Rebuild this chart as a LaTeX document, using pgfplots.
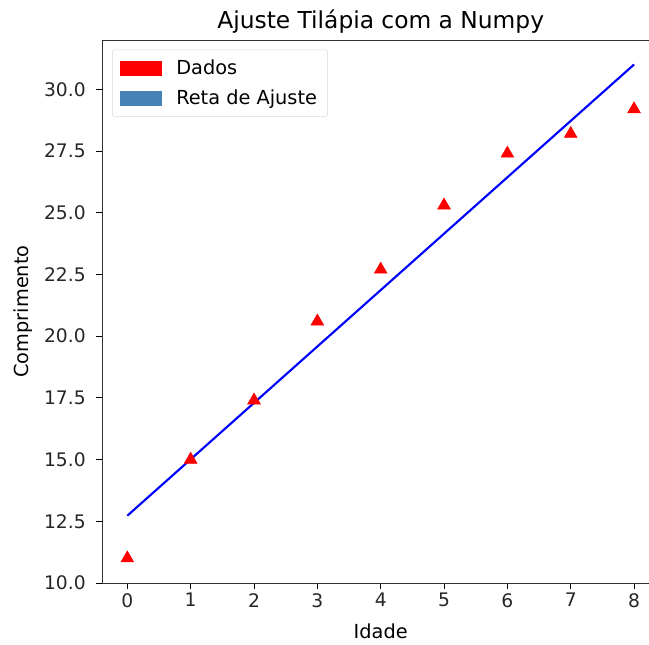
\documentclass[border=0pt]{standalone}
\usepackage{pgfplots}
\pgfplotsset{compat=1.18}
\usepackage{fontspec}
\setmainfont{DejaVu Sans}
\definecolor{steelblue}{HTML}{4682B4}
\begin{document}
\begin{tikzpicture}
\path[use as bounding box, clip] (-76.5pt,-46.5pt) rectangle (410.25pt,437.25pt);
\begin{axis}[
  at={(0pt,0pt)}, anchor=south west,
  scale only axis, width=418.05pt, height=407.25pt,
  xmin=-0.4, xmax=8.4, ymin=10, ymax=32,
  xtick={0,...,8},
  ytick={10,12.5,15,17.5,20,22.5,25,27.5,30},
  yticklabel style={/pgf/number format/.cd, fixed, fixed zerofill, precision=1, /tikz/xshift=-4.5pt},
  /pgf/number format/assume math mode=true,
  tick label style={font=\fontsize{14}{16}\selectfont, black!85},
  tick align=outside, tick pos=left,
  major tick length=4.2pt,
  every tick/.style={black, line width=0.6pt},
  axis line style={line width=0.6pt, black!80},
  title={Ajuste Tilápia com a Numpy},
  title style={font=\fontsize{17.5}{20}\selectfont, at={(0.5,1)}, anchor=south, yshift=-4.5pt},
  xlabel={Idade}, ylabel={Comprimento},
  label style={font=\fontsize{14.5}{16}\selectfont},
  xlabel style={at={(0.5,0)}, anchor=north, yshift=-27pt},
  ylabel style={at={(0,0.5)}, anchor=south, yshift=48.5pt},
  legend style={at={(7.5pt,400pt)}, anchor=north west, draw=black!15, rounded corners=2pt,
    font=\fontsize{14.5}{17}\selectfont, row sep=6pt, inner xsep=6pt, inner ysep=5.5pt},
  legend cell align=left,
  legend image code/.code={\fill[#1, draw=none, sharp corners] (0pt,-5.5pt) rectangle (31.5pt,5.5pt);
    \path[draw=none, fill=none] (0pt,0pt) rectangle (40pt,0.1pt);},
]
\addlegendimage{fill=red}
\addlegendentry{Dados}
\addlegendimage{fill=steelblue}
\addlegendentry{Reta de Ajuste}
\addplot[draw=none, mark=triangle*, mark size=5.5pt, mark options={fill=red, draw=red}, forget plot] coordinates {
(0,11.0) (1,15.0) (2,17.4) (3,20.6) (4,22.7) (5,25.3) (6,27.4) (7,28.2) (8,29.2)
};
\addplot[blue, line width=1.6pt, forget plot] coordinates {(0,12.727) (8,31.007)};
\end{axis}
\end{tikzpicture}
\end{document}
